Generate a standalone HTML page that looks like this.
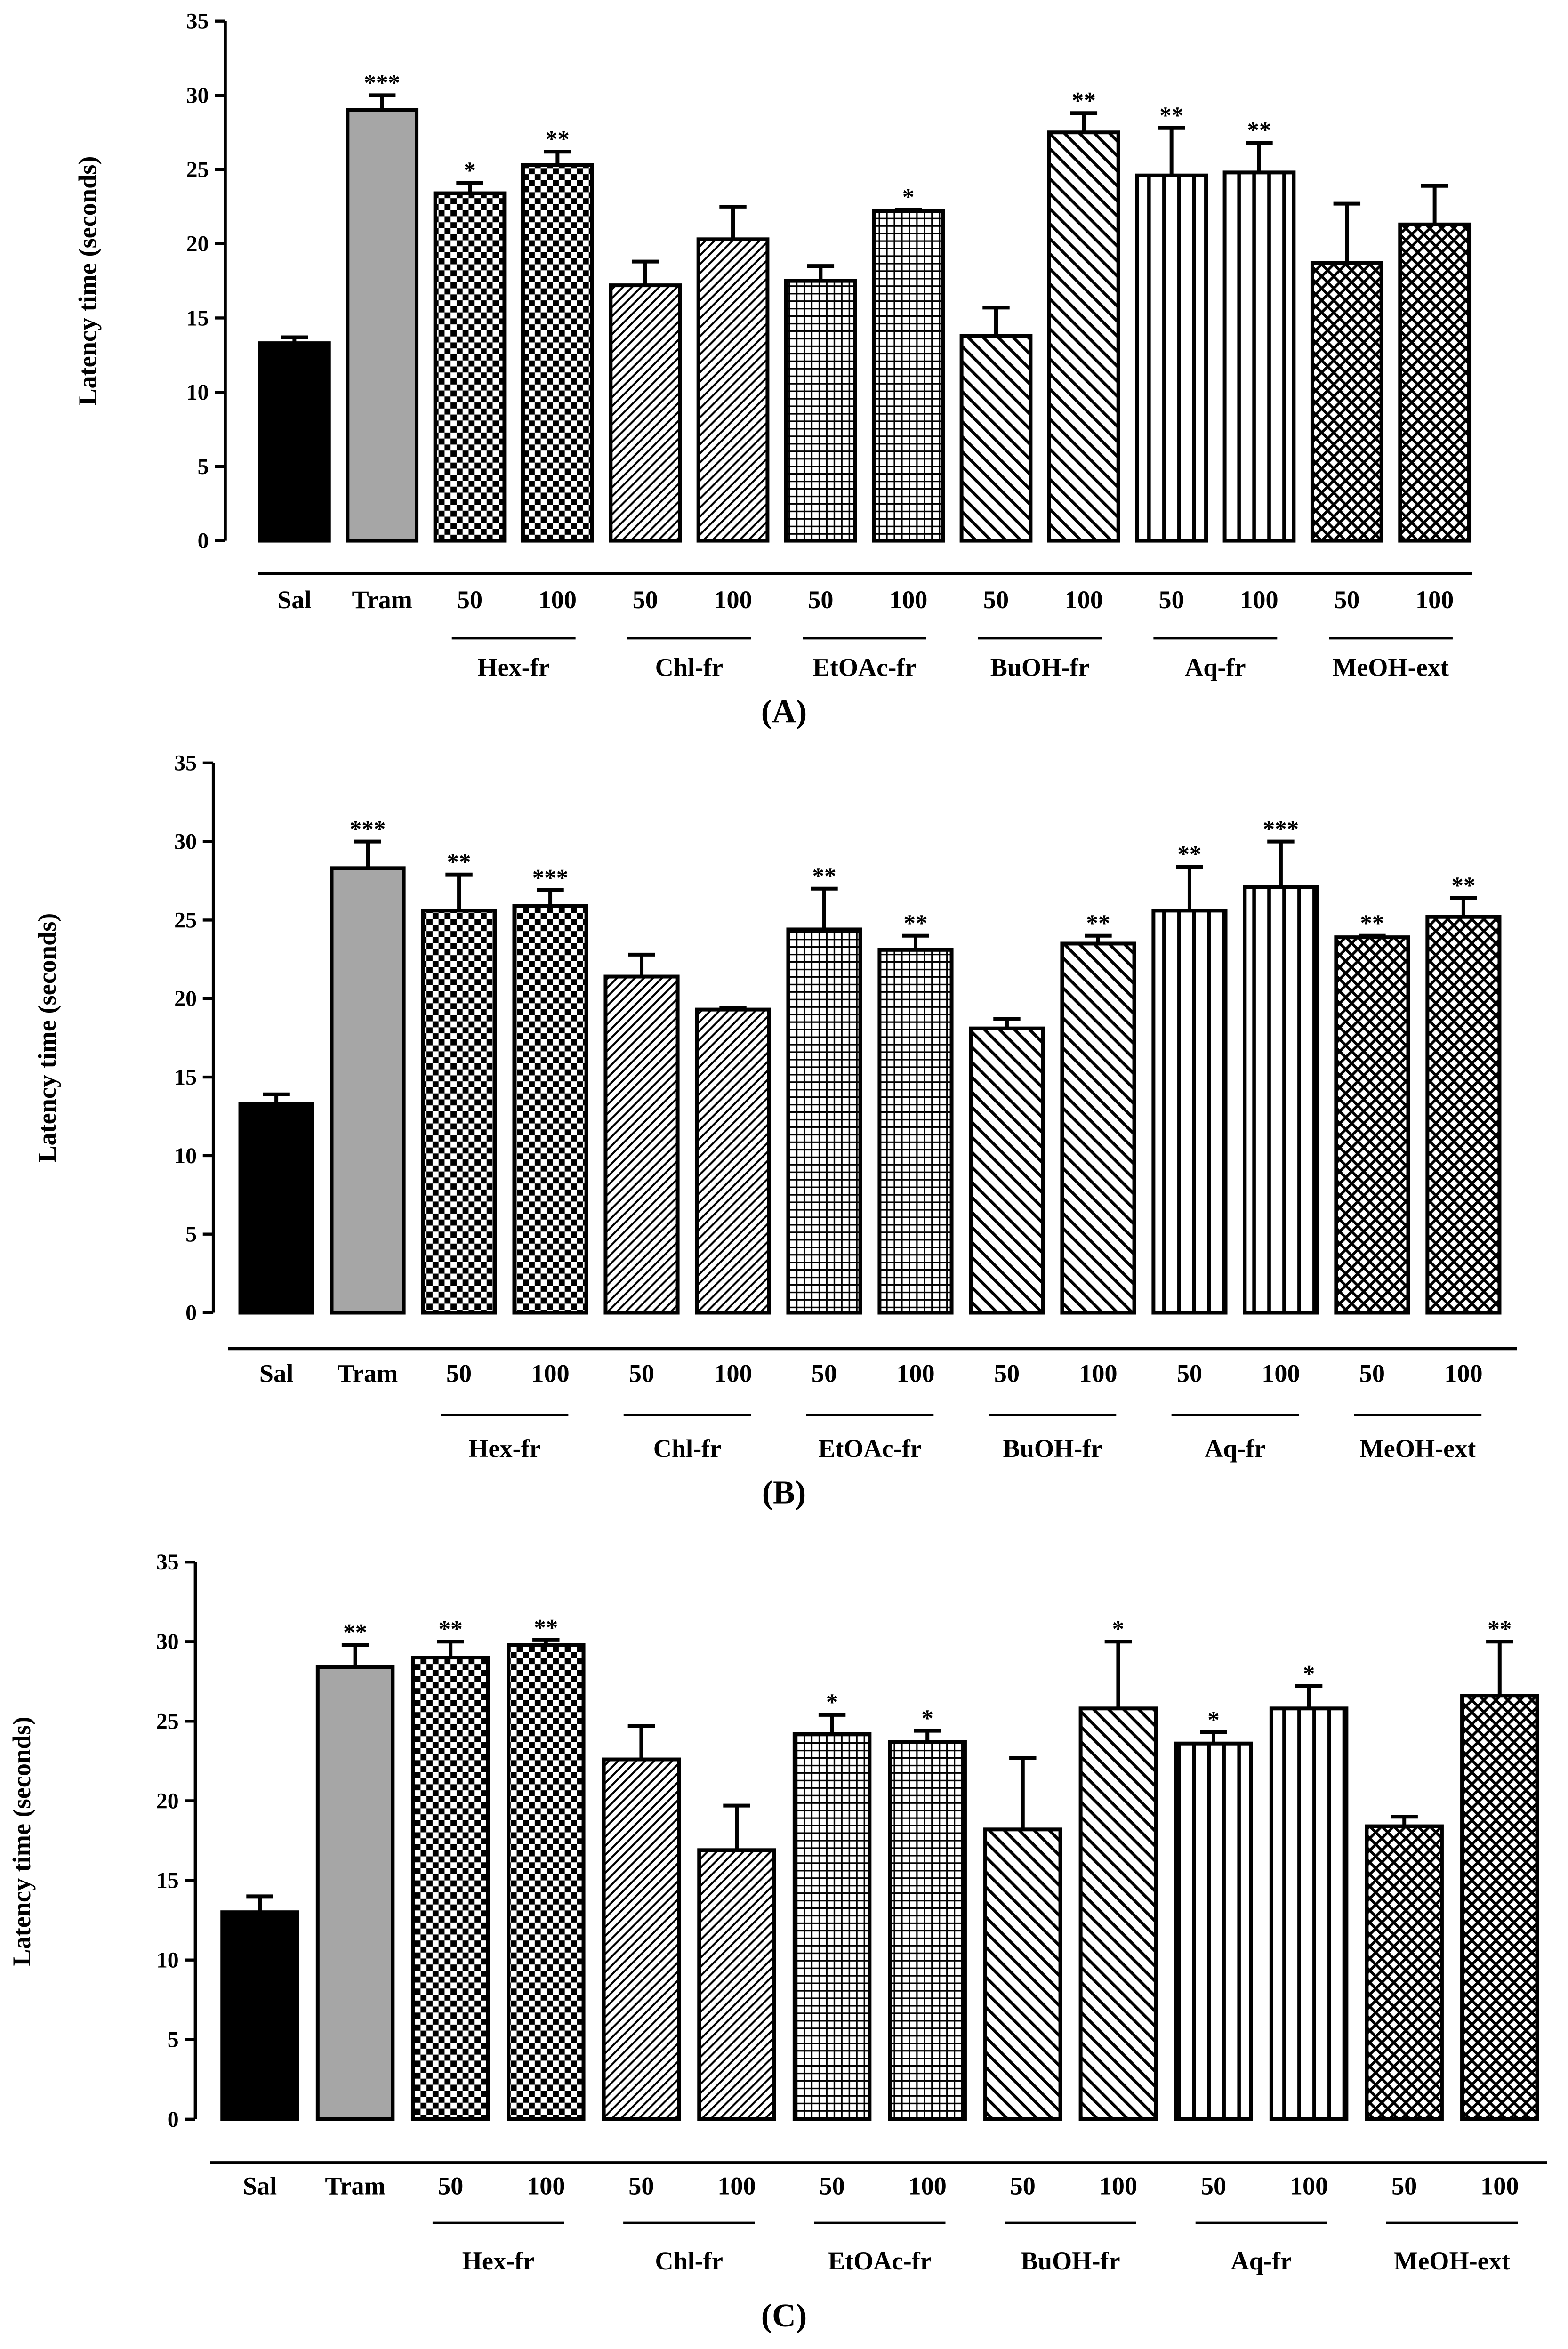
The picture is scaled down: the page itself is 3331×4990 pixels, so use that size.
<!DOCTYPE html>
<html><head><meta charset="utf-8">
<style>
html,body{margin:0;padding:0;background:#fff;}
svg{display:block;}
text{font-family:"Liberation Serif",serif;font-weight:bold;fill:#000;}
</style></head>
<body>
<svg id="chart" xmlns="http://www.w3.org/2000/svg" width="3331" height="4990" viewBox="0 0 1044 1564">
<defs>
<pattern id="p-check" patternUnits="userSpaceOnUse" width="8" height="8"><rect width="8" height="8" fill="#fff"/><rect width="4" height="4" fill="#000"/><rect x="4" y="4" width="4" height="4" fill="#000"/></pattern>
<pattern id="p-fwd" patternUnits="userSpaceOnUse" width="6" height="6"><rect width="6" height="6" fill="#fff"/><path d="M-1,7 L7,-1 M-2,2 L2,-2 M4,8 L8,4" stroke="#000" stroke-width="1.3"/></pattern>
<pattern id="p-grid" patternUnits="userSpaceOnUse" width="5" height="5"><rect width="5" height="5" fill="#fff"/><path d="M0,0.5 H5 M0.5,0 V5" stroke="#000" stroke-width="1"/></pattern>
<pattern id="p-back" patternUnits="userSpaceOnUse" width="10" height="10"><rect width="10" height="10" fill="#fff"/><path d="M-1,-1 L11,11 M-6,4 L6,16 M4,-6 L16,6" stroke="#000" stroke-width="2"/></pattern>
<pattern id="p-vert" patternUnits="userSpaceOnUse" width="10" height="10"><rect width="10" height="10" fill="#fff"/><path d="M5,0 V10" stroke="#000" stroke-width="2.4"/></pattern>
<pattern id="p-cross" patternUnits="userSpaceOnUse" width="8" height="8"><rect width="8" height="8" fill="#fff"/><path d="M-1,-1 L9,9 M-1,9 L9,-1" stroke="#000" stroke-width="1.8"/></pattern>
</defs>
</svg>
<script>
const categories = ["Sal","Tram","50","100","50","100","50","100","50","100","50","100","50","100"];
const groups = ["Hex-fr","Chl-fr","EtOAc-fr","BuOH-fr","Aq-fr","MeOH-ext"];
const yTicks = [0,5,10,15,20,25,30,35];
const valuesA = [13.3,29,23.4,25.3,17.2,20.3,17.5,22.2,13.8,27.5,24.6,24.8,18.7,21.3];
const errorsA = [0.4,1,0.7,0.9,1.6,2.2,1,0.1,1.9,1.3,3.2,2,4,2.6];
const starsA = ["","***","*","**","","","","*","","**","**","**","",""];
const valuesB = [13.3,28.3,25.6,25.9,21.4,19.3,24.4,23.1,18.1,23.5,25.6,27.1,23.9,25.2];
const errorsB = [0.6,1.7,2.3,1,1.4,0.1,2.6,0.9,0.6,0.5,2.8,2.9,0.1,1.2];
const starsB = ["","***","**","***","","","**","**","","**","**","***","**","**"];
const valuesC = [13,28.4,29,29.8,22.6,16.9,24.2,23.7,18.2,25.8,23.6,25.8,18.4,26.6];
const errorsC = [1,1.4,1,0.3,2.1,2.8,1.2,0.7,4.5,4.2,0.7,1.4,0.6,3.4];
const starsC = ["","**","**","**","","","*","*","","*","*","*","","**"];

const fills = ["#000","#a6a6a6","url(#p-check)","url(#p-check)","url(#p-fwd)","url(#p-fwd)","url(#p-grid)","url(#p-grid)","url(#p-back)","url(#p-back)","url(#p-vert)","url(#p-vert)","url(#p-cross)","url(#p-cross)"];
const svg = document.getElementById('chart');
const NS = "http://www.w3.org/2000/svg";
function mk(tag, attrs, parent){const e=document.createElementNS(NS,tag);for(const k in attrs)e.setAttribute(k,attrs[k]);(parent||svg).appendChild(e);return e;}

const panels = [
 {id:"a",letter:"A",vals:valuesA,errs:errorsA,stars:starsA,ax:150,y0:360,y35:14,c0:196,step:58.4,bw:46,xl:[172,980],xly:382,lab:405,ul:425,gl:450,pl:481,ytx:64,yty:187},
 {id:"b",letter:"B",vals:valuesB,errs:errorsB,stars:starsB,ax:142,y0:874,y35:508,c0:184,step:60.8,bw:48,xl:[152,1010],xly:898,lab:920,ul:942,gl:970,pl:1001,ytx:37,yty:691},
 {id:"c",letter:"C",vals:valuesC,errs:errorsC,stars:starsC,ax:130,y0:1411,y35:1040,c0:173,step:63.5,bw:50,xl:[140,1030],xly:1440,lab:1461,ul:1480,gl:1511,pl:1549,ytx:20,yty:1226}
];

panels.forEach(p=>{
  const g = mk('g',{});
  
  
  const y = v => p.y0 - v*(p.y0-p.y35)/35;
  const x = i => p.c0 + i*p.step;
  const ax = mk('line',{x1:p.ax,y1:p.y35,x2:p.ax,y2:p.y0,stroke:"#000","stroke-width":2},g);
  
  
  yTicks.forEach(t=>{
    mk('line',{x1:p.ax-7,y1:y(t),x2:p.ax,y2:y(t),stroke:"#000","stroke-width":2},g);
    const tl = mk('text',{x:p.ax-11,y:y(t)+5,"text-anchor":"end","font-size":15},g);
    tl.textContent = t;
    
    
  });
  const yt = mk('text',{x:p.ytx,y:p.yty,"text-anchor":"middle","font-size":17,transform:`rotate(-90 ${p.ytx} ${p.yty})`},g);
  yt.textContent = "Latency time (seconds)";
  
  
  p.vals.forEach((v,i)=>{
    const bx = x(i)-p.bw/2;
    const b = mk('rect',{x:bx,y:y(v),width:p.bw,height:p.y0-y(v),fill:fills[i],stroke:"#000","stroke-width":2.5},g);
    
    
    const top = y(v+p.errs[i]);
    const e = mk('path',{d:`M${x(i)},${y(v)} V${top} M${x(i)-9},${top} H${x(i)+9}`,stroke:"#000","stroke-width":2.5,fill:"none"},g);
    
    
    if(p.stars[i]){
      const s = mk('text',{x:x(i),y:top-3,"text-anchor":"middle","font-size":16},g);
      s.textContent = p.stars[i];
      
      
    }
    const cl = mk('text',{x:x(i),y:p.lab,"text-anchor":"middle","font-size":17},g);
    cl.textContent = categories[i];
    
    
  });
  const xa = mk('line',{x1:p.xl[0],y1:p.xly,x2:p.xl[1],y2:p.xly,stroke:"#000","stroke-width":2},g);
  
  
  groups.forEach((gn,k)=>{
    const a = x(2+2*k), b2 = x(3+2*k), c=(a+b2)/2;
    mk('line',{x1:a-12,y1:p.ul,x2:b2+12,y2:p.ul,stroke:"#000","stroke-width":1.5},g);
    const gt = mk('text',{x:c,y:p.gl,"text-anchor":"middle","font-size":17},g);
    gt.textContent = gn;
    
    
  });
  const pl = mk('text',{x:522,y:p.pl,"text-anchor":"middle","font-size":22,"font-weight":"normal"},g);
  pl.innerHTML = '(<tspan font-weight="bold">'+p.letter+'</tspan>)';
  
  
});
</script>
</body></html>
